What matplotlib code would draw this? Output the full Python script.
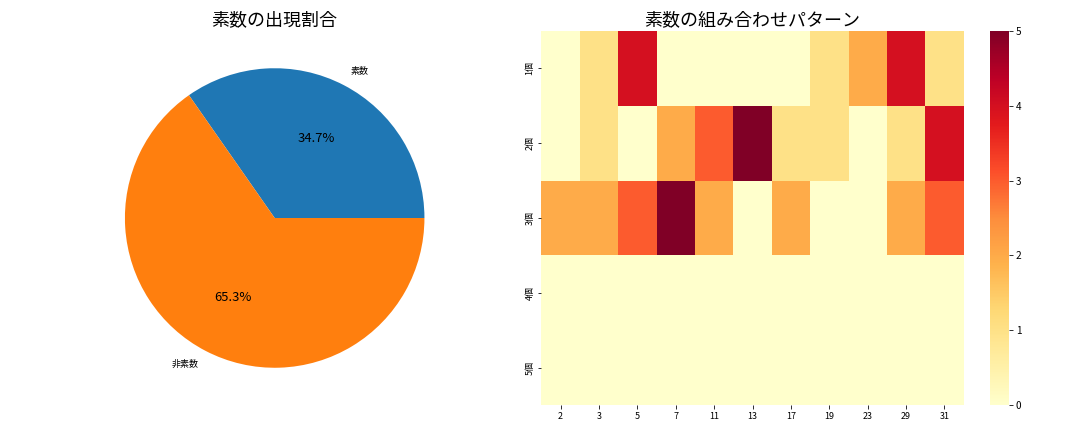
import matplotlib
matplotlib.use("Agg")
import matplotlib.pyplot as plt
import numpy as np
import seaborn as sns

plt.rcParams['font.family'] = ['Noto Sans CJK JP', 'DejaVu Sans']

pie_labels = ['素数', '非素数']
pie_values = [34.7, 65.3]

primes = [2, 3, 5, 7, 11, 13, 17, 19, 23, 29, 31]
row_labels = ['1個', '2個', '3個', '4個', '5個']
counts = [
    [0, 1, 4, 0, 0, 0, 0, 1, 2, 4, 1],
    [0, 1, 0, 2, 3, 5, 1, 1, 0, 1, 4],
    [2, 2, 3, 5, 2, 0, 2, 0, 0, 2, 3],
    [0, 0, 0, 0, 0, 0, 0, 0, 0, 0, 0],
    [0, 0, 0, 0, 0, 0, 0, 0, 0, 0, 0],
]

fig, (ax1, ax2) = plt.subplots(1, 2, figsize=(15, 6), dpi=72)

ax1.pie(pie_values, labels=pie_labels, autopct='%1.1f%%',
        colors=['#1f77b4', '#ff7f0e'], textprops={'fontsize': 9})
for t in ax1.texts:
    if '%' in t.get_text():
        t.set_fontsize(13)
ax1.set_title('素数の出現割合', fontsize=18)

sns.heatmap(np.array(counts), ax=ax2, cmap='YlOrRd',
            xticklabels=primes, yticklabels=row_labels)
ax2.set_title('素数の組み合わせパターン', fontsize=18)
ax2.tick_params(labelsize=9)

plt.tight_layout()
fig.savefig('out.png')
